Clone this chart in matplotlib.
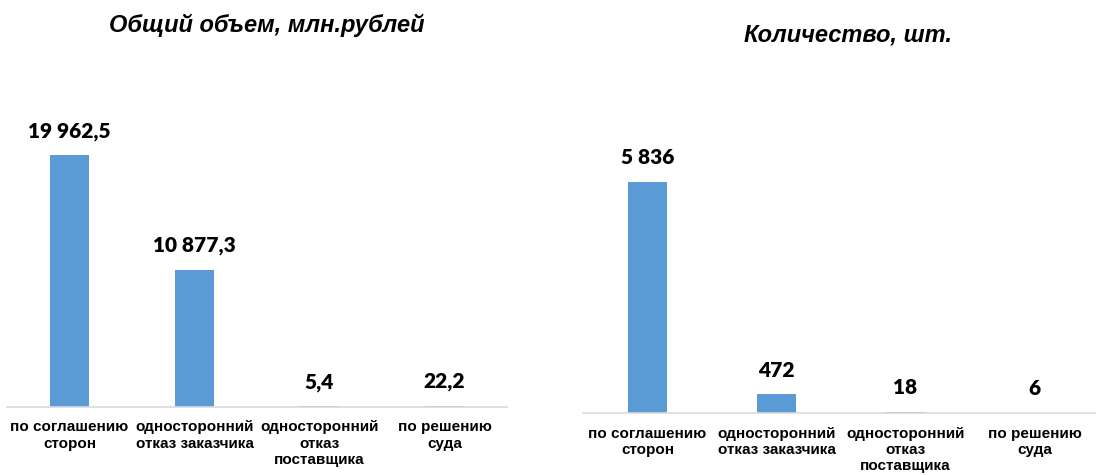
import matplotlib
matplotlib.use("Agg")
import matplotlib.pyplot as plt

# ------------------------------------------------------------
# данные
# ------------------------------------------------------------
categories = ["по соглашению\nсторон",
              "односторонний\nотказ заказчика",
              "односторонний\nотказ\nпоставщика",
              "по решению\nсуда"]
volume = [19962.5, 10877.3, 5.4, 22.2]
volume_labels = ["19 962,5", "10 877,3", "5,4", "22,2"]
count = [5836, 472, 18, 6]
count_labels = ["5 836", "472", "18", "6"]

BAR = "#5B9BD5"
AXIS = "#D9D9D9"
CAT_FONT = dict(family=["Liberation Sans", "DejaVu Sans"], fontsize=11, fontweight="bold")
VAL_FONT = dict(family=["Lato", "DejaVu Sans"], fontsize=15, fontweight=800)
TITLE_FONT = dict(family=["Liberation Sans", "DejaVu Sans"], fontsize=17,
                  fontweight="bold", style="italic")

W, H = 1096, 475
fig = plt.figure(figsize=(W / 100, H / 100), dpi=100, facecolor="white")

# положение осей в пикселях
ax1 = fig.add_axes([7 / W, (H - 406.5) / H, 500 / W, 306.5 / H])
ax2 = fig.add_axes([583 / W, (H - 413) / H, 516 / W, 313 / H])


def draw(ax, vals, labels, ymax):
    x = range(len(vals))
    bars = ax.bar(x, vals, width=0.31, color=BAR, zorder=2)
    for b, lab in zip(bars, labels):
        ax.annotate(lab, (b.get_x() + b.get_width() / 2, b.get_height()),
                    xytext=(0, 17.5), textcoords="offset points",
                    ha="center", va="center", **VAL_FONT)
    ax.set_xlim(-0.5, len(vals) - 0.5)
    ax.set_ylim(0, ymax)
    ax.set_xticks(list(x))
    ax.set_xticklabels(categories, linespacing=1.2, **CAT_FONT)
    ax.tick_params(axis="x", length=0, pad=10)
    ax.set_yticks([])
    for s in ["top", "right", "left"]:
        ax.spines[s].set_visible(False)
    ax.spines["bottom"].set_color(AXIS)
    ax.spines["bottom"].set_linewidth(1.2)
    ax.patch.set_alpha(0)


draw(ax1, volume, volume_labels, 24376)
draw(ax2, count, count_labels, 7908)

fig.text(267 / W, 1 - 25 / H, "Общий объем, млн.рублей", ha="center", va="center", **TITLE_FONT)
fig.text(848 / W, 1 - 35 / H, "Количество, шт.", ha="center", va="center", **TITLE_FONT)

fig.savefig("out.png", dpi=100, facecolor="white")
